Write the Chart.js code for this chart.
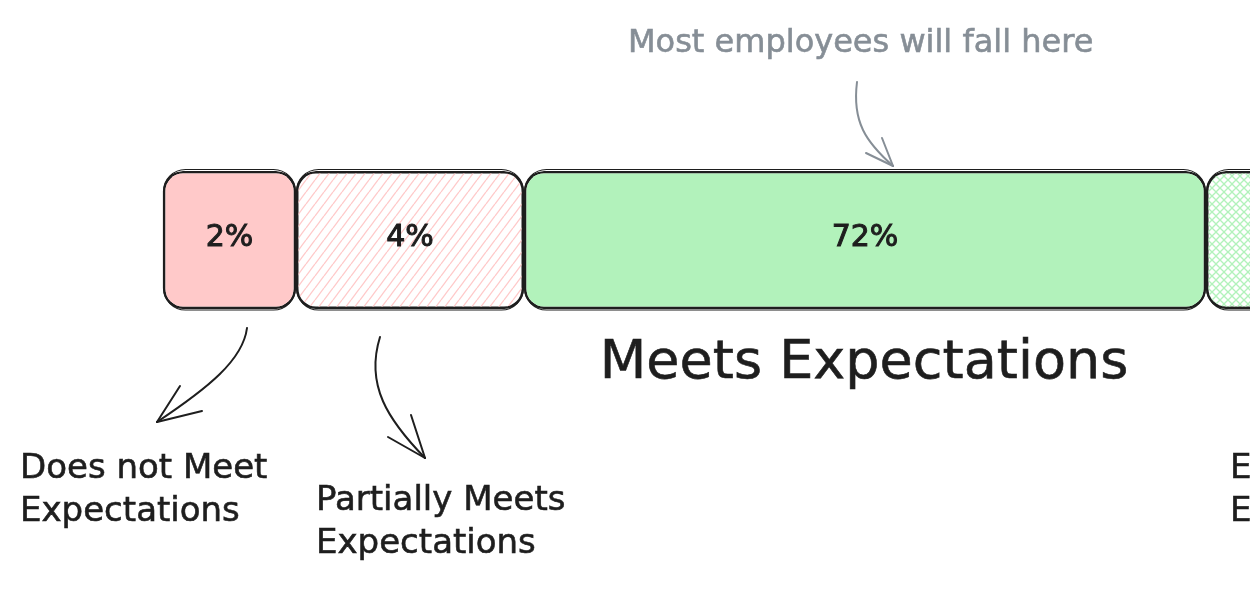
<!DOCTYPE html>
<html>
<head>
<meta charset="utf-8">
<script src="https://cdn.jsdelivr.net/npm/chart.js@4.4.1/dist/chart.umd.min.js"></script>
<style>
  html, body { margin: 0; padding: 0; background: #fff; }
  #wrap { width: 1250px; height: 601px; }
</style>
</head>
<body>
<div id="wrap"><canvas id="chart" width="1250" height="601"></canvas></div>
<script>
// rating bands, left to right
const segments = ['Does not Meet Expectations', 'Partially Meets Expectations', 'Meets Expectations', 'Exceeds Expectations'];
// share of employees shown inside each box
const shares = [2, 4, 72, 20];
// the sketch is not to scale: drawn length of each box
const boxLengths = [133, 228, 682, 228];

const ink = '#1e1e1e';
const pencil = '#868e96';
const font = '"DejaVu Sans", sans-serif';

function hatch(color, cross) {
    const c = document.createElement('canvas');
    c.width = cross ? 8 : 9;
    c.height = cross ? 8 : 12;
    const g = c.getContext('2d');
    g.strokeStyle = color;
    g.lineWidth = 1.3;
    for (const dx of [-c.width, 0, c.width]) {
        g.beginPath(); g.moveTo(dx, c.height); g.lineTo(dx + c.width, 0); g.stroke();
        if (cross) {
            g.beginPath(); g.moveTo(dx, 0); g.lineTo(dx + c.width, c.height); g.stroke();
        }
    }
    return g.createPattern(c, 'repeat');
}

const fills = ['#ffc9c9', hatch('#ffc9c9', false), '#b2f2bb', hatch('#b2f2bb', true)];

// hand-written notes and arrows around the bar
const notes = [
    { lines: ['Most employees will fall here'], x: 628, y: 52, size: 32, color: pencil, align: 'left' },
    { lines: ['Meets Expectations'], x: 864, y: 378, size: 54, color: ink, align: 'center' },
    { lines: ['Does not Meet', 'Expectations'], x: 20, y: 478, size: 34, color: ink, align: 'left' },
    { lines: ['Partially Meets', 'Expectations'], x: 316, y: 510, size: 34, color: ink, align: 'left' },
    { lines: ['Exceeds', 'Expectations'], x: 1230, y: 478, size: 34, color: ink, align: 'left' }
];
const arrows = [
    { path: [[857, 82], [852, 122], [866, 142], [893, 166]], head: [[866, 153], [882, 138]], color: pencil },
    { path: [[247, 328], [243, 360], [208, 388], [157, 422]], head: [[180, 386], [202, 411]], color: ink },
    { path: [[380, 337], [365, 385], [388, 420], [425, 458]], head: [[411, 415], [388, 437]], color: ink }
];

const sketchLabels = {
    id: 'sketchLabels',
    afterDatasetsDraw(chart) {
        const ctx = chart.ctx;
        ctx.save();
        // second, slightly offset pencil outline like a hand sketch
        ctx.strokeStyle = ink;
        ctx.lineWidth = 1.2;
        chart.data.datasets.forEach((ds, i) => {
            const el = chart.getDatasetMeta(i).data[0];
            const h = el.height;
            ctx.beginPath();
            ctx.roundRect(el.base + 0.5, el.y - h / 2 - 1.5, el.x - el.base - 1, h + 2.5, 22);
            ctx.stroke();
        });
        ctx.fillStyle = ink;
        ctx.font = '30px ' + font;
        ctx.lineWidth = 1;
        ctx.textAlign = 'center';
        ctx.textBaseline = 'middle';
        chart.data.datasets.forEach((ds, i) => {
            const el = chart.getDatasetMeta(i).data[0];
            const cx = (el.base + el.x) / 2;
            ctx.fillText(shares[i] + '%', cx, el.y - 2);
            ctx.strokeText(shares[i] + '%', cx, el.y - 2);
        });
        ctx.restore();
    },
    afterDraw(chart) {
        const ctx = chart.ctx;
        ctx.save();
        notes.forEach(n => {
            ctx.fillStyle = n.color;
            ctx.strokeStyle = n.color;
            ctx.lineWidth = 0.6;
            ctx.font = n.size + 'px ' + font;
            ctx.textAlign = n.align;
            ctx.textBaseline = 'alphabetic';
            n.lines.forEach((t, k) => {
                ctx.fillText(t, n.x, n.y + k * n.size * 1.25);
                ctx.strokeText(t, n.x, n.y + k * n.size * 1.25);
            });
        });
        ctx.lineCap = 'round';
        ctx.lineJoin = 'round';
        ctx.lineWidth = 2;
        arrows.forEach(a => {
            const [p0, p1, p2, p3] = a.path;
            ctx.strokeStyle = a.color;
            ctx.beginPath();
            ctx.moveTo(p0[0], p0[1]);
            ctx.bezierCurveTo(p1[0], p1[1], p2[0], p2[1], p3[0], p3[1]);
            ctx.stroke();
            a.head.forEach(h => {
                ctx.beginPath();
                ctx.moveTo(h[0], h[1]);
                ctx.lineTo(p3[0], p3[1]);
                ctx.stroke();
            });
        });
        ctx.restore();
    }
};

const radius = { topLeft: 20, topRight: 20, bottomLeft: 20, bottomRight: 20 };

new Chart(document.getElementById('chart').getContext('2d'), {
    type: 'bar',
    data: {
        labels: ['Rating'],
        datasets: segments.map((name, i) => ({
            label: name,
            data: [boxLengths[i]],
            backgroundColor: fills[i],
            borderColor: ink,
            borderWidth: 2.5,
            borderRadius: radius,
            borderSkipped: false,
            inflateAmount: 0,
            barPercentage: 1,
            categoryPercentage: 1
        }))
    },
    options: {
        indexAxis: 'y',
        responsive: false,
        animation: false,
        layout: { padding: { left: 163, right: 0, top: 171, bottom: 292 } },
        scales: {
            x: { stacked: true, display: false, min: 0, max: 1087 },
            y: { stacked: true, display: false }
        },
        plugins: {
            legend: { display: false },
            tooltip: { enabled: false }
        }
    },
    plugins: [sketchLabels]
});
</script>
</body>
</html>
